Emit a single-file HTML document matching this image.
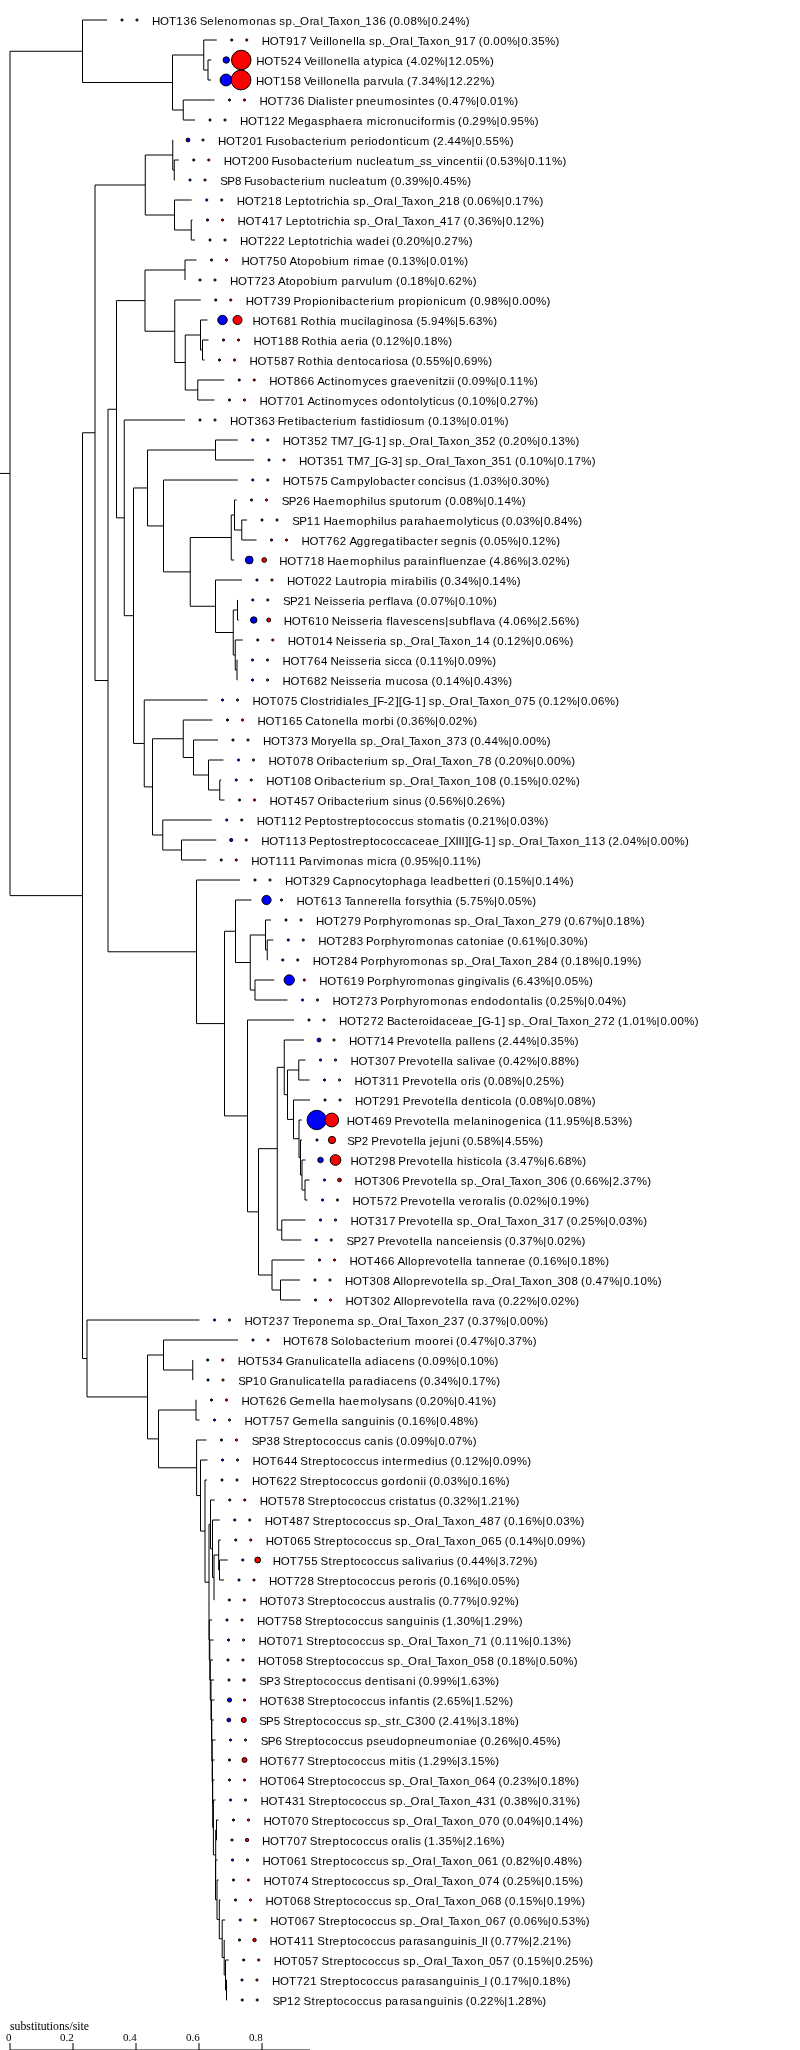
<!DOCTYPE html>
<html><head><meta charset="utf-8"><style>html,body{margin:0;padding:0;background:#fff;}svg{display:block;will-change:transform;}</style></head>
<body>
<svg width="800" height="2050" viewBox="0 0 800 2050">
<path d="M82.5 20H107M203.75 40H216.75M208 60H211.25M208 80H211M203.75 70H208M172.5 55H203.75M183.25 100H214.5M183.25 120H195M172.5 110H183.25M82.5 82.5H172.5M10 51.25H82.5M172.75 140H173M174.25 160H178.75M174.25 180H175M172.75 170H174.25M145.25 155H172.75M174.5 200H191.75M191.25 220H192.5M191.25 240H195M174.5 230H191.25M145.25 215H174.5M95 185H145.25M185 260H196.5M145 270H185M174.75 300H200.75M200.5 320H207.5M202.5 340H208.5M202.5 360H204.5M200.5 350H202.5M185.25 335H200.5M197.75 380H224.25M197.75 400H214.5M185.25 390H197.75M174.75 362.5H185.25M145 331.25H174.75M116.5 300.62H145M124.25 420H185M215.5 440H237.75M215.5 460H254M147.5 450H215.5M163.5 480H237.75M234.5 500H236.5M241.75 520H247M241.75 540H256.5M234.5 530H241.75M231.25 515H234.5M231.25 560H234.25M190.25 537.5H231.25M215.5 580H242M237.5 600H237.75M237.5 620H238.75M233.25 610H237.5M235.25 640H242.75M237 660H237.5M237 680H237.5M235.25 670H237M233.25 655H235.25M215.5 632.5H233.25M190.25 606.25H215.5M163.5 571.88H190.25M147.5 525.94H163.5M133.5 487.97H147.5M144.25 700H207.5M183.25 720H212.5M193.5 740H218M208.5 760H223.5M219.75 780H221.25M219.75 800H224.5M208.5 790H219.75M193.5 775H208.5M183.25 757.5H193.5M152.5 738.75H183.25M162.75 820H211.75M181.5 840H216.25M181.5 860H206.25M162.75 850H181.5M152.5 835H162.75M144.25 786.88H152.5M133.5 743.44H144.25M124.25 615.7H133.5M116.5 517.85H124.25M108 409.24H116.5M196.5 880H240M235.5 900H251.5M265.5 920H271M267.25 940H273.25M267.25 960H267.75M265.5 950H267.25M250.25 935H265.5M255 980H274.25M255 1000H287.5M250.25 990H255M235.5 962.5H250.25M224.5 931.25H235.5M247.5 1020H294M284.25 1040H304M298.75 1060H305.5M298.75 1080H309.5M287.5 1070H298.75M293.5 1100H310M299 1120H301.75M300.5 1140H302M302 1160H305.5M305 1180H309.5M305 1200H307.5M302 1190H305M300.5 1175H302M299 1157.5H300.5M293.5 1138.75H299M287.5 1119.38H293.5M284.25 1094.69H287.5M277.25 1067.34H284.25M281.75 1220H305.5M281.75 1240H301.25M277.25 1230H281.75M258.5 1148.67H277.25M272 1260H304.5M280.5 1280H300M280.5 1300H300.5M272 1290H280.5M258.5 1275H272M247.5 1211.84H258.5M224.5 1115.92H247.5M196.5 1023.58H224.5M108 951.79H196.5M95 680.52H108M82.5 432.76H95M87 1320H199.5M163.5 1340H238M192.75 1380H193M163.5 1370H192.75M147.5 1355H163.5M196 1400H196.5M196 1420H199.5M158.5 1410H196M196.6 1440H206.5M200.5 1460H207.5M205 1480H207M210.5 1500H214.75M212.5 1520H219.75M218.7 1540H220.75M219.5 1560H227.75M219.5 1580H224M218.7 1570H219.5M214 1555H218.7M214 1600H214.3M212.5 1577.5H214M210.5 1548.75H212.5M209 1524.38H210.5M209.3 1620H212M209.8 1640H213.5M210.3 1660H213M211 1680H214M211.5 1700H214.5M211.8 1720H213.8M212.2 1740H215.5M212.5 1760H214.5M212.7 1780H214.5M213.4 1800H215.5M216.5 1820H218.5M216.5 1840H217M215.7 1830H216.5M215.5 1860H217.5M217 1880H218.5M219.3 1900H220.5M222.2 1920H225.2M224.2 1940H224.5M225.5 1960H228.7M226.5 1980H227M226.5 2000H227.2M225.5 1990H226.5M224.2 1975H225.5M222.2 1957.5H224.2M219.3 1938.75H222.2M217 1919.38H219.3M215.5 1899.69H217M213.4 1854.92H215.7M212.7 1827.46H213.4M212.5 1803.73H212.7M212.2 1781.87H212.5M211.8 1760.93H212.2M211.5 1740.47H211.8M211 1720.23H211.5M210.3 1700.12H211M209.8 1680.06H210.3M209.3 1660.03H209.8M209 1640.01H209.3M205 1582.19H209M200.5 1531.1H205M196.6 1495.55H200.5M158.5 1467.77H196.6M147.5 1438.89H158.5M87 1396.94H147.5M82.5 1358.47H87M10 895.61H82.5M0 473.43H10M208 60V80M203.75 40V70M183.25 100V120M172.5 55V110M82.5 20V82.5M174.25 160V180M172.75 140V170M191.25 220V240M174.5 200V230M145.25 155V215M185 260V280M202.5 340V360M200.5 320V350M197.75 380V400M185.25 335V390M174.75 300V362.5M145 270V331.25M215.5 440V460M241.75 520V540M234.5 500V530M231.25 515V560M237.5 600V620M237 660V680M235.25 640V670M233.25 610V655M215.5 580V632.5M190.25 537.5V606.25M163.5 480V571.88M147.5 450V525.94M219.75 780V800M208.5 760V790M193.5 740V775M183.25 720V757.5M181.5 840V860M162.75 820V850M152.5 738.75V835M144.25 700V786.88M133.5 487.97V743.44M124.25 420V615.7M116.5 300.62V517.85M267.25 940V960M265.5 920V950M255 980V1000M250.25 935V990M235.5 900V962.5M298.75 1060V1080M305 1180V1200M302 1160V1190M300.5 1140V1175M299 1120V1157.5M293.5 1100V1138.75M287.5 1070V1119.38M284.25 1040V1094.69M281.75 1220V1240M277.25 1067.34V1230M280.5 1280V1300M272 1260V1290M258.5 1148.67V1275M247.5 1020V1211.84M224.5 931.25V1115.92M196.5 880V1023.58M108 409.24V951.79M95 185V680.52M192.75 1360V1380M163.5 1340V1370M196 1400V1420M219.5 1560V1580M218.7 1540V1570M214 1555V1600M212.5 1520V1577.5M210.5 1500V1548.75M216.5 1820V1840M226.5 1980V2000M225.5 1960V1990M224.2 1940V1975M222.2 1920V1957.5M219.3 1900V1938.75M217 1880V1919.38M215.5 1860V1899.69M215.7 1830V1879.84M213.4 1800V1854.92M212.7 1780V1827.46M212.5 1760V1803.73M212.2 1740V1781.87M211.8 1720V1760.93M211.5 1700V1740.47M211 1680V1720.23M210.3 1660V1700.12M209.8 1640V1680.06M209.3 1620V1660.03M209 1524.38V1640.01M205 1480V1582.19M200.5 1460V1531.1M196.6 1440V1495.55M158.5 1410V1467.77M147.5 1355V1438.89M87 1320V1396.94M82.5 432.76V1358.47M10 51.25V895.61" stroke="#000" stroke-width="1" fill="none"/>
<g stroke="#000" stroke-width="1">
<circle cx="122" cy="20" r="1.1" fill="#0000ff"/><circle cx="137" cy="20" r="1.1" fill="#ff0000"/><circle cx="231.75" cy="40" r="1.1" fill="#0000ff"/><circle cx="246.75" cy="40" r="1.1" fill="#ff0000"/><circle cx="226.25" cy="60" r="3.19" fill="#0000ff"/><circle cx="241.25" cy="60" r="9.76" fill="#ff0000"/><circle cx="226" cy="80" r="5.91" fill="#0000ff"/><circle cx="241" cy="80" r="9.9" fill="#ff0000"/><circle cx="229.5" cy="100" r="1.1" fill="#0000ff"/><circle cx="244.5" cy="100" r="1.1" fill="#ff0000"/><circle cx="210" cy="120" r="1.1" fill="#0000ff"/><circle cx="225" cy="120" r="1.1" fill="#ff0000"/><circle cx="188" cy="140" r="1.9" fill="#0000ff"/><circle cx="203" cy="140" r="1.1" fill="#ff0000"/><circle cx="193.75" cy="160" r="1.1" fill="#0000ff"/><circle cx="208.75" cy="160" r="1.1" fill="#ff0000"/><circle cx="190" cy="180" r="1.1" fill="#0000ff"/><circle cx="205" cy="180" r="1.1" fill="#ff0000"/><circle cx="206.75" cy="200" r="1.1" fill="#0000ff"/><circle cx="221.75" cy="200" r="1.1" fill="#ff0000"/><circle cx="207.5" cy="220" r="1.1" fill="#0000ff"/><circle cx="222.5" cy="220" r="1.1" fill="#ff0000"/><circle cx="210" cy="240" r="1.1" fill="#0000ff"/><circle cx="225" cy="240" r="1.1" fill="#ff0000"/><circle cx="211.5" cy="260" r="1.1" fill="#0000ff"/><circle cx="226.5" cy="260" r="1.1" fill="#ff0000"/><circle cx="200" cy="280" r="1.1" fill="#0000ff"/><circle cx="215" cy="280" r="1.1" fill="#ff0000"/><circle cx="215.75" cy="300" r="1.1" fill="#0000ff"/><circle cx="230.75" cy="300" r="1.1" fill="#ff0000"/><circle cx="222.5" cy="320" r="4.76" fill="#0000ff"/><circle cx="237.5" cy="320" r="4.51" fill="#ff0000"/><circle cx="223.5" cy="340" r="1.1" fill="#0000ff"/><circle cx="238.5" cy="340" r="1.1" fill="#ff0000"/><circle cx="219.5" cy="360" r="1.1" fill="#0000ff"/><circle cx="234.5" cy="360" r="1.1" fill="#ff0000"/><circle cx="239.25" cy="380" r="1.1" fill="#0000ff"/><circle cx="254.25" cy="380" r="1.1" fill="#ff0000"/><circle cx="229.5" cy="400" r="1.1" fill="#0000ff"/><circle cx="244.5" cy="400" r="1.1" fill="#ff0000"/><circle cx="200" cy="420" r="1.1" fill="#0000ff"/><circle cx="215" cy="420" r="1.1" fill="#ff0000"/><circle cx="252.75" cy="440" r="1.1" fill="#0000ff"/><circle cx="267.75" cy="440" r="1.1" fill="#ff0000"/><circle cx="269" cy="460" r="1.1" fill="#0000ff"/><circle cx="284" cy="460" r="1.1" fill="#ff0000"/><circle cx="252.75" cy="480" r="1.1" fill="#0000ff"/><circle cx="267.75" cy="480" r="1.1" fill="#ff0000"/><circle cx="251.5" cy="500" r="1.1" fill="#0000ff"/><circle cx="266.5" cy="500" r="1.1" fill="#ff0000"/><circle cx="262" cy="520" r="1.1" fill="#0000ff"/><circle cx="277" cy="520" r="1.1" fill="#ff0000"/><circle cx="271.5" cy="540" r="1.1" fill="#0000ff"/><circle cx="286.5" cy="540" r="1.1" fill="#ff0000"/><circle cx="249.25" cy="560" r="3.88" fill="#0000ff"/><circle cx="264.25" cy="560" r="2.37" fill="#ff0000"/><circle cx="257" cy="580" r="1.1" fill="#0000ff"/><circle cx="272" cy="580" r="1.1" fill="#ff0000"/><circle cx="252.75" cy="600" r="1.1" fill="#0000ff"/><circle cx="267.75" cy="600" r="1.1" fill="#ff0000"/><circle cx="253.75" cy="620" r="3.22" fill="#0000ff"/><circle cx="268.75" cy="620" r="1.99" fill="#ff0000"/><circle cx="257.75" cy="640" r="1.1" fill="#0000ff"/><circle cx="272.75" cy="640" r="1.1" fill="#ff0000"/><circle cx="252.5" cy="660" r="1.1" fill="#0000ff"/><circle cx="267.5" cy="660" r="1.1" fill="#ff0000"/><circle cx="252.5" cy="680" r="1.1" fill="#0000ff"/><circle cx="267.5" cy="680" r="1.1" fill="#ff0000"/><circle cx="222.5" cy="700" r="1.1" fill="#0000ff"/><circle cx="237.5" cy="700" r="1.1" fill="#ff0000"/><circle cx="227.5" cy="720" r="1.1" fill="#0000ff"/><circle cx="242.5" cy="720" r="1.1" fill="#ff0000"/><circle cx="233" cy="740" r="1.1" fill="#0000ff"/><circle cx="248" cy="740" r="1.1" fill="#ff0000"/><circle cx="238.5" cy="760" r="1.1" fill="#0000ff"/><circle cx="253.5" cy="760" r="1.1" fill="#ff0000"/><circle cx="236.25" cy="780" r="1.1" fill="#0000ff"/><circle cx="251.25" cy="780" r="1.1" fill="#ff0000"/><circle cx="239.5" cy="800" r="1.1" fill="#0000ff"/><circle cx="254.5" cy="800" r="1.1" fill="#ff0000"/><circle cx="226.75" cy="820" r="1.1" fill="#0000ff"/><circle cx="241.75" cy="820" r="1.1" fill="#ff0000"/><circle cx="231.25" cy="840" r="1.57" fill="#0000ff"/><circle cx="246.25" cy="840" r="1.1" fill="#ff0000"/><circle cx="221.25" cy="860" r="1.1" fill="#0000ff"/><circle cx="236.25" cy="860" r="1.1" fill="#ff0000"/><circle cx="255" cy="880" r="1.1" fill="#0000ff"/><circle cx="270" cy="880" r="1.1" fill="#ff0000"/><circle cx="266.5" cy="900" r="4.61" fill="#0000ff"/><circle cx="281.5" cy="900" r="1.1" fill="#ff0000"/><circle cx="286" cy="920" r="1.1" fill="#0000ff"/><circle cx="301" cy="920" r="1.1" fill="#ff0000"/><circle cx="288.25" cy="940" r="1.1" fill="#0000ff"/><circle cx="303.25" cy="940" r="1.1" fill="#ff0000"/><circle cx="282.75" cy="960" r="1.1" fill="#0000ff"/><circle cx="297.75" cy="960" r="1.1" fill="#ff0000"/><circle cx="289.25" cy="980" r="5.16" fill="#0000ff"/><circle cx="304.25" cy="980" r="1.1" fill="#ff0000"/><circle cx="302.5" cy="1000" r="1.1" fill="#0000ff"/><circle cx="317.5" cy="1000" r="1.1" fill="#ff0000"/><circle cx="309" cy="1020" r="1.1" fill="#0000ff"/><circle cx="324" cy="1020" r="1.1" fill="#ff0000"/><circle cx="319" cy="1040" r="1.9" fill="#0000ff"/><circle cx="334" cy="1040" r="1.1" fill="#ff0000"/><circle cx="320.5" cy="1060" r="1.1" fill="#0000ff"/><circle cx="335.5" cy="1060" r="1.1" fill="#ff0000"/><circle cx="324.5" cy="1080" r="1.1" fill="#0000ff"/><circle cx="339.5" cy="1080" r="1.1" fill="#ff0000"/><circle cx="325" cy="1100" r="1.1" fill="#0000ff"/><circle cx="340" cy="1100" r="1.1" fill="#ff0000"/><circle cx="316.75" cy="1120" r="9.68" fill="#0000ff"/><circle cx="331.75" cy="1120" r="6.88" fill="#ff0000"/><circle cx="317" cy="1140" r="1.1" fill="#0000ff"/><circle cx="332" cy="1140" r="3.62" fill="#ff0000"/><circle cx="320.5" cy="1160" r="2.74" fill="#0000ff"/><circle cx="335.5" cy="1160" r="5.37" fill="#ff0000"/><circle cx="324.5" cy="1180" r="1.1" fill="#0000ff"/><circle cx="339.5" cy="1180" r="1.84" fill="#ff0000"/><circle cx="322.5" cy="1200" r="1.1" fill="#0000ff"/><circle cx="337.5" cy="1200" r="1.1" fill="#ff0000"/><circle cx="320.5" cy="1220" r="1.1" fill="#0000ff"/><circle cx="335.5" cy="1220" r="1.1" fill="#ff0000"/><circle cx="316.25" cy="1240" r="1.1" fill="#0000ff"/><circle cx="331.25" cy="1240" r="1.1" fill="#ff0000"/><circle cx="319.5" cy="1260" r="1.1" fill="#0000ff"/><circle cx="334.5" cy="1260" r="1.1" fill="#ff0000"/><circle cx="315" cy="1280" r="1.1" fill="#0000ff"/><circle cx="330" cy="1280" r="1.1" fill="#ff0000"/><circle cx="315.5" cy="1300" r="1.1" fill="#0000ff"/><circle cx="330.5" cy="1300" r="1.1" fill="#ff0000"/><circle cx="214.5" cy="1320" r="1.1" fill="#0000ff"/><circle cx="229.5" cy="1320" r="1.1" fill="#ff0000"/><circle cx="253" cy="1340" r="1.1" fill="#0000ff"/><circle cx="268" cy="1340" r="1.1" fill="#ff0000"/><circle cx="207.75" cy="1360" r="1.1" fill="#0000ff"/><circle cx="222.75" cy="1360" r="1.1" fill="#ff0000"/><circle cx="208" cy="1380" r="1.1" fill="#0000ff"/><circle cx="223" cy="1380" r="1.1" fill="#ff0000"/><circle cx="211.5" cy="1400" r="1.1" fill="#0000ff"/><circle cx="226.5" cy="1400" r="1.1" fill="#ff0000"/><circle cx="214.5" cy="1420" r="1.1" fill="#0000ff"/><circle cx="229.5" cy="1420" r="1.1" fill="#ff0000"/><circle cx="221.5" cy="1440" r="1.1" fill="#0000ff"/><circle cx="236.5" cy="1440" r="1.1" fill="#ff0000"/><circle cx="222.5" cy="1460" r="1.1" fill="#0000ff"/><circle cx="237.5" cy="1460" r="1.1" fill="#ff0000"/><circle cx="222" cy="1480" r="1.1" fill="#0000ff"/><circle cx="237" cy="1480" r="1.1" fill="#ff0000"/><circle cx="229.75" cy="1500" r="1.1" fill="#0000ff"/><circle cx="244.75" cy="1500" r="1.1" fill="#ff0000"/><circle cx="234.75" cy="1520" r="1.1" fill="#0000ff"/><circle cx="249.75" cy="1520" r="1.1" fill="#ff0000"/><circle cx="235.75" cy="1540" r="1.1" fill="#0000ff"/><circle cx="250.75" cy="1540" r="1.1" fill="#ff0000"/><circle cx="242.75" cy="1560" r="1.1" fill="#0000ff"/><circle cx="257.75" cy="1560" r="2.94" fill="#ff0000"/><circle cx="239" cy="1580" r="1.1" fill="#0000ff"/><circle cx="254" cy="1580" r="1.1" fill="#ff0000"/><circle cx="229.3" cy="1600" r="1.1" fill="#0000ff"/><circle cx="244.3" cy="1600" r="1.1" fill="#ff0000"/><circle cx="227" cy="1620" r="1.1" fill="#0000ff"/><circle cx="242" cy="1620" r="1.1" fill="#ff0000"/><circle cx="228.5" cy="1640" r="1.1" fill="#0000ff"/><circle cx="243.5" cy="1640" r="1.1" fill="#ff0000"/><circle cx="228" cy="1660" r="1.1" fill="#0000ff"/><circle cx="243" cy="1660" r="1.1" fill="#ff0000"/><circle cx="229" cy="1680" r="1.1" fill="#0000ff"/><circle cx="244" cy="1680" r="1.23" fill="#ff0000"/><circle cx="229.5" cy="1700" r="2.07" fill="#0000ff"/><circle cx="244.5" cy="1700" r="1.14" fill="#ff0000"/><circle cx="228.8" cy="1720" r="1.87" fill="#0000ff"/><circle cx="243.8" cy="1720" r="2.5" fill="#ff0000"/><circle cx="230.5" cy="1740" r="1.1" fill="#0000ff"/><circle cx="245.5" cy="1740" r="1.1" fill="#ff0000"/><circle cx="229.5" cy="1760" r="1.1" fill="#0000ff"/><circle cx="244.5" cy="1760" r="2.48" fill="#ff0000"/><circle cx="229.5" cy="1780" r="1.1" fill="#0000ff"/><circle cx="244.5" cy="1780" r="1.1" fill="#ff0000"/><circle cx="230.5" cy="1800" r="1.1" fill="#0000ff"/><circle cx="245.5" cy="1800" r="1.1" fill="#ff0000"/><circle cx="233.5" cy="1820" r="1.1" fill="#0000ff"/><circle cx="248.5" cy="1820" r="1.1" fill="#ff0000"/><circle cx="232" cy="1840" r="1.1" fill="#0000ff"/><circle cx="247" cy="1840" r="1.67" fill="#ff0000"/><circle cx="232.5" cy="1860" r="1.1" fill="#0000ff"/><circle cx="247.5" cy="1860" r="1.1" fill="#ff0000"/><circle cx="233.5" cy="1880" r="1.1" fill="#0000ff"/><circle cx="248.5" cy="1880" r="1.1" fill="#ff0000"/><circle cx="235.5" cy="1900" r="1.1" fill="#0000ff"/><circle cx="250.5" cy="1900" r="1.1" fill="#ff0000"/><circle cx="240.2" cy="1920" r="1.1" fill="#0000ff"/><circle cx="255.2" cy="1920" r="1.1" fill="#ff0000"/><circle cx="239.5" cy="1940" r="1.1" fill="#0000ff"/><circle cx="254.5" cy="1940" r="1.71" fill="#ff0000"/><circle cx="243.7" cy="1960" r="1.1" fill="#0000ff"/><circle cx="258.7" cy="1960" r="1.1" fill="#ff0000"/><circle cx="242" cy="1980" r="1.1" fill="#0000ff"/><circle cx="257" cy="1980" r="1.1" fill="#ff0000"/><circle cx="242.2" cy="2000" r="1.1" fill="#0000ff"/><circle cx="257.2" cy="2000" r="1.1" fill="#ff0000"/>
</g>
<g font-family="Liberation Sans, sans-serif" font-size="11.5" fill="#000">
<text x="152.1 159.98 168.98 176.37 183.45 190.43 197.18 199.85 207.34 214.41 217.34 224.44 231.3 238.7 249.3 256.44 262.9 270.21 276.18 279.21 285.49 292.3 294.72 299.98 309.7 312.9 320.41 322.72 327.98 332.9 340.49 346.3 353.44 359.72 365.37 372.45 379.43 386.18 389.09 393.43 400.3 403.43 410.43 417.22 427.51 431.43 438.3 441.29 448.43 455.22 465.67" y="25">HOT136 Selenomonas sp._Oral_Taxon_136 (0.08%|0.24%)</text>
<text x="261.85 269.73 278.73 286.15 293.12 300.16 306.93 309.8 316.09 323.17 326.16 329.16 332.05 339.19 346.09 353.16 356.16 358.65 365.93 368.96 375.24 382.05 384.47 389.73 399.45 402.65 410.16 412.47 417.73 422.65 430.24 436.05 443.19 449.47 455.15 462.12 469.16 475.93 478.84 483.18 490.05 493.18 500.18 506.97 517.26 521.18 528.05 531.2 538.14 544.97 555.42" y="45">HOT917 Veillonella sp._Oral_Taxon_917 (0.00%|0.35%)</text>
<text x="256.35 264.23 273.23 280.64 287.54 294.68 301.43 304.3 310.59 317.67 320.66 323.66 326.55 333.69 340.59 347.66 350.66 353.15 360.43 363.15 370.93 374.76 380.74 387.67 390.41 396.15 403.43 406.34 410.68 417.55 420.68 427.54 434.47 444.76 448.62 455.54 462.55 465.68 472.64 479.47 489.92" y="65">HOT524 Veillonella atypica (4.02%|12.05%)</text>
<text x="256.1 263.98 272.98 280.37 287.39 294.43 301.18 304.05 310.34 317.42 320.41 323.41 326.3 333.44 340.34 347.41 350.41 352.9 360.18 363.49 369.9 377.7 381.52 387.4 394.41 396.9 404.18 407.09 411.41 418.3 421.45 428.43 435.22 445.51 449.37 456.29 463.3 466.29 473.29 480.22 490.67" y="85">HOT158 Veillonella parvula (7.34%|12.22%)</text>
<text x="259.6 267.48 276.48 283.91 290.95 297.93 304.68 307.72 315.92 318.4 325.91 328.92 331.71 338.18 341.84 349.2 352.68 355.99 362.94 369.84 376.9 384.2 394.8 401.71 407.92 410.94 418.18 421.84 428.71 434.68 437.59 441.93 448.8 451.93 458.91 465.72 476.01 479.93 486.8 489.93 496.87 503.72 514.17" y="105">HOT736 Dialister pneumosintes (0.47%|0.01%)</text>
<text x="240.1 247.98 256.98 264.37 271.29 278.29 285.18 288.07 297.34 304.36 310.9 318.21 324.49 331.43 337.9 345.34 352.7 355.9 363.18 366.7 377.42 380.16 386.7 390.3 397.44 404.4 411.16 417.42 420.63 424.3 431.7 435.7 446.42 449.21 455.18 458.09 462.43 469.3 472.29 479.4 486.22 496.51 500.43 507.3 510.4 517.39 524.22 534.67" y="125">HOT122 Megasphaera micronuciformis (0.29%|0.95%)</text>
<text x="218.1 225.98 234.98 242.29 249.43 256.37 263.18 265.76 271.4 278.21 284.3 291.49 297.9 305.16 311.68 315.34 322.7 326.42 329.4 336.7 347.18 350.49 357.34 364.7 368.42 371.3 378.36 385.3 392.44 399.68 403.42 406.16 412.4 419.7 430.18 433.09 437.29 444.3 447.43 454.43 461.22 471.51 475.43 482.3 485.39 492.39 499.22 509.67" y="145">HOT201 Fusobacterium periodonticum (2.44%|0.55%)</text>
<text x="223.85 231.73 240.73 248.04 255.18 262.18 268.93 271.51 277.15 283.96 290.05 297.24 303.65 310.91 317.43 321.09 328.45 332.17 335.15 342.45 352.93 356.19 363.15 369.91 376.16 379.09 385.65 393.43 397.15 404.45 414.47 419.96 425.96 431.47 437.27 443.17 446.19 452.91 459.09 466.19 473.43 477.17 480.17 482.93 485.84 490.18 497.05 500.14 507.2 513.97 524.26 528.18 535.05 538.12 545.12 551.97 562.42" y="165">HOT200 Fusobacterium nucleatum_ss_vincentii (0.53%|0.11%)</text>
<text x="220.35 227.29 234.93 241.68 244.26 249.9 256.71 262.8 269.99 276.4 283.66 290.18 293.84 301.2 304.92 307.9 315.2 325.68 328.94 335.9 342.66 348.91 351.84 358.4 366.18 369.9 377.2 387.68 390.59 394.93 401.8 404.95 411.9 418.72 429.01 432.93 439.8 442.93 449.89 456.72 467.17" y="185">SP8 Fusobacterium nucleatum (0.39%|0.45%)</text>
<text x="236.85 244.73 253.73 261.04 268.12 275.18 281.93 284.98 291.09 298.24 305.43 309.05 316.43 320.45 324.17 326.91 333.18 340.17 342.65 349.93 352.96 359.24 366.05 368.47 373.73 383.45 386.65 394.16 396.47 401.73 406.65 414.24 420.05 427.19 433.47 439.04 446.12 453.18 459.93 462.84 467.18 474.05 477.18 484.18 490.97 501.26 505.18 512.05 515.12 522.16 528.97 539.42" y="205">HOT218 Leptotrichia sp._Oral_Taxon_218 (0.06%|0.17%)</text>
<text x="237.6 245.48 254.48 261.93 268.87 275.91 282.68 285.73 291.84 298.99 306.18 309.8 317.18 321.2 324.92 327.66 333.93 340.92 343.4 350.68 353.71 359.99 366.8 369.22 374.48 384.2 387.4 394.91 397.22 402.48 407.4 414.99 420.8 427.94 434.22 439.93 446.87 453.91 460.68 463.59 467.93 474.8 477.95 484.93 491.72 502.01 505.93 512.8 515.87 522.79 529.72 540.17" y="225">HOT417 Leptotrichia sp._Oral_Taxon_417 (0.36%|0.12%)</text>
<text x="240.1 247.98 256.98 264.29 271.29 278.29 285.18 288.23 294.34 301.49 308.68 312.3 319.68 323.7 327.42 330.16 336.43 343.42 345.9 353.18 356.46 364.9 372.36 379.34 386.42 389.18 392.09 396.43 403.3 406.29 413.43 420.22 430.51 434.43 441.3 444.29 451.41 458.22 468.67" y="245">HOT222 Leptotrichia wadei (0.20%|0.27%)</text>
<text x="241.6 249.48 258.48 265.91 272.89 279.93 286.68 289.55 297.18 300.8 307.99 314.8 321.99 328.92 331.9 339.2 349.68 353.2 356.92 360.2 370.4 377.84 384.68 387.59 391.93 398.8 401.87 408.95 415.72 426.01 429.93 436.8 439.93 446.87 453.72 464.17" y="265">HOT750 Atopobium rimae (0.13%|0.01%)</text>
<text x="230.1 237.98 246.98 254.41 261.29 268.45 275.18 278.05 285.68 289.3 296.49 303.3 310.49 317.42 320.4 327.7 338.18 341.49 347.9 355.7 359.52 365.4 372.41 375.4 382.7 393.18 396.09 400.43 407.3 410.37 417.43 424.22 434.51 438.43 445.3 448.43 455.29 462.22 472.67" y="285">HOT723 Atopobium parvulum (0.18%|0.62%)</text>
<text x="245.85 253.73 262.73 270.16 277.2 284.15 290.93 293.54 301.45 305.05 312.24 319.17 322.05 329.19 336.17 339.24 345.65 352.91 359.43 363.09 370.45 374.17 377.15 384.45 394.93 398.24 405.45 409.05 416.24 423.17 426.05 433.19 440.17 442.91 449.15 456.45 466.93 469.84 474.18 481.05 484.15 491.18 497.97 508.26 512.18 519.05 522.18 529.18 535.97 546.42" y="305">HOT739 Propionibacterium propionicum (0.98%|0.00%)</text>
<text x="252.6 260.48 269.48 276.93 283.93 290.87 297.68 300.47 308.8 316.18 319.93 326.92 329.4 336.68 340.2 350.9 357.66 363.92 366.91 369.4 376.86 383.92 386.94 393.8 400.71 406.4 413.68 416.59 420.89 427.8 430.9 437.93 444.72 455.01 458.89 465.8 468.93 475.95 482.72 493.17" y="325">HOT681 Rothia mucilaginosa (5.94%|5.63%)</text>
<text x="253.6 261.48 270.48 277.87 284.93 291.93 298.68 301.47 309.8 317.18 320.93 327.92 330.4 337.68 340.4 347.84 355.2 358.92 361.4 368.68 371.59 375.93 382.8 385.87 392.79 399.72 410.01 413.93 420.8 423.87 430.93 437.72 448.17" y="345">HOT188 Rothia aeria (0.12%|0.18%)</text>
<text x="249.6 257.48 266.48 273.89 280.93 287.91 294.68 297.47 305.8 313.18 316.93 323.92 326.4 333.68 336.86 343.84 350.94 358.18 361.8 368.66 374.4 382.2 385.92 388.8 395.71 401.4 408.68 411.59 415.93 422.8 425.89 432.89 439.72 450.01 453.93 460.8 463.93 470.9 477.72 488.17" y="365">HOT587 Rothia dentocariosa (0.55%|0.69%)</text>
<text x="269.35 277.23 286.23 293.68 300.68 307.68 314.43 317.3 324.41 330.93 334.67 337.69 344.55 351.95 362.76 368.41 374.59 381.46 387.43 390.61 397.95 401.15 408.59 415.77 421.59 428.69 435.67 438.93 442.46 448.67 451.67 454.43 457.34 461.68 468.55 471.68 478.65 485.47 495.76 499.68 506.55 509.62 516.62 523.47 533.92" y="385">HOT866 Actinomyces graevenitzii (0.09%|0.11%)</text>
<text x="259.6 267.48 276.48 283.91 290.93 297.87 304.68 307.55 314.66 321.18 324.92 327.94 334.8 342.2 353.01 358.66 364.84 371.71 377.68 380.8 387.86 394.8 401.94 409.18 412.8 419.91 423.01 429.18 432.92 435.66 441.9 448.71 454.68 457.59 461.93 468.8 471.87 478.93 485.72 496.01 499.93 506.8 509.79 516.91 523.72 534.17" y="405">HOT701 Actinomyces odontolyticus (0.10%|0.27%)</text>
<text x="230.1 237.98 246.98 254.45 261.43 268.45 275.18 277.76 283.7 287.34 294.68 298.42 301.49 307.9 315.16 321.68 325.34 332.7 336.42 339.4 346.7 357.18 360.63 363.9 371.21 377.68 381.42 384.36 391.42 394.3 401.21 407.4 414.7 425.18 428.09 432.43 439.3 442.37 449.45 456.22 466.51 470.43 477.3 480.43 487.37 494.22 504.67" y="425">HOT363 Fretibacterium fastidiosum (0.13%|0.01%)</text>
<text x="282.85 290.73 299.73 307.2 314.14 321.04 327.93 330.73 337.82 347.16 353.47 359.02 362.66 370.97 375.12 382.87 385.93 388.96 395.24 402.05 404.47 409.73 419.45 422.65 430.16 432.47 437.73 442.65 450.24 456.05 463.19 469.47 475.2 482.14 489.04 495.93 498.84 503.18 510.05 513.04 520.18 526.97 537.26 541.18 548.05 551.12 558.2 564.97 575.42" y="445">HOT352 TM7_[G-1] sp._Oral_Taxon_352 (0.20%|0.13%)</text>
<text x="299.1 306.98 315.98 323.45 330.39 337.37 344.18 346.98 354.07 363.41 369.72 375.27 378.91 387.22 391.45 399.12 402.18 405.21 411.49 418.3 420.72 425.98 435.7 438.9 446.41 448.72 453.98 458.9 466.49 472.3 479.44 485.72 491.45 498.39 505.37 512.18 515.09 519.43 526.3 529.37 536.43 543.22 553.51 557.43 564.3 567.37 574.41 581.22 591.67" y="465">HOT351 TM7_[G-3] sp._Oral_Taxon_351 (0.10%|0.17%)</text>
<text x="282.85 290.73 299.73 307.14 314.16 321.14 327.93 330.5 338.65 346.45 357.24 364.26 370.16 373.05 380.24 386.65 393.91 400.43 404.09 411.45 414.93 417.91 424.05 431.19 437.91 444.17 446.96 453.15 459.96 465.93 468.84 473.12 480.05 483.18 490.2 496.97 507.26 511.18 518.05 521.2 528.18 534.97 545.42" y="485">HOT575 Campylobacter concisus (1.03%|0.30%)</text>
<text x="281.85 288.79 296.29 303.43 310.18 313.1 320.9 328.34 335.7 346.3 353.49 360.43 367.42 370.41 373.4 380.21 386.18 389.21 395.49 402.4 409.68 413.3 420.7 424.4 431.7 442.18 445.09 449.43 456.3 459.43 466.43 473.22 483.51 487.43 494.3 497.37 504.43 511.22 521.67" y="505">SP26 Haemophilus sputorum (0.08%|0.14%)</text>
<text x="292.35 299.29 306.87 313.87 320.68 323.6 331.4 338.84 346.2 356.8 363.99 370.93 377.92 380.91 383.9 390.71 396.68 399.99 406.4 414.2 417.4 424.93 431.4 438.84 446.2 456.8 463.91 467.01 473.18 476.92 479.66 485.9 492.71 498.68 501.59 505.93 512.8 515.93 522.95 529.72 540.01 543.93 550.8 553.93 560.93 567.72 578.17" y="525">SP11 Haemophilus parahaemolyticus (0.03%|0.84%)</text>
<text x="301.6 309.48 318.48 325.91 332.93 339.79 346.68 349.55 356.86 363.86 371.2 374.84 381.86 388.4 396.18 399.92 402.99 409.4 416.66 423.18 426.84 434.2 437.68 440.71 446.84 453.86 460.94 467.92 470.71 476.68 479.59 483.93 490.8 493.93 500.89 507.72 518.01 521.93 528.8 531.87 538.79 545.72 556.17" y="545">HOT762 Aggregatibacter segnis (0.05%|0.12%)</text>
<text x="279.35 287.23 296.23 303.66 310.62 317.68 324.43 327.35 335.15 342.59 349.95 360.55 367.74 374.68 381.67 384.66 387.65 394.46 400.43 403.74 410.15 417.95 421.15 428.67 431.69 438.88 442.66 445.65 452.59 459.69 466.46 472.15 479.59 486.43 489.34 493.68 500.55 503.68 510.68 517.47 527.76 531.7 538.55 541.68 548.54 555.47 565.92" y="565">HOT718 Haemophilus parainfluenzae (4.86%|3.02%)</text>
<text x="287.1 294.98 303.98 311.43 318.29 325.29 332.18 335.23 340.9 348.4 355.68 359.7 363.3 370.49 377.42 379.9 387.18 390.7 401.42 404.7 407.9 415.49 422.42 425.41 428.42 431.21 437.18 440.09 444.43 451.3 454.45 461.43 468.22 478.51 482.43 489.3 492.37 499.43 506.22 516.67" y="585">HOT022 Lautropia mirabilis (0.34%|0.14%)</text>
<text x="283.1 290.04 297.54 304.62 311.43 314.33 322.59 329.67 332.46 338.46 344.59 351.95 355.67 358.15 365.43 368.74 375.59 382.95 386.88 390.66 393.15 400.77 406.15 413.43 416.34 420.68 427.55 430.68 437.66 444.47 454.76 458.68 465.55 468.62 475.68 482.47 492.92" y="605">SP21 Neisseria perflava (0.07%|0.10%)</text>
<text x="283.85 291.73 300.73 308.18 315.12 322.18 328.93 331.83 340.09 347.17 349.96 355.96 362.09 369.45 373.17 375.65 382.93 386.38 390.16 392.65 400.27 406.09 412.96 418.91 425.09 432.19 438.96 445.26 448.96 455.15 462.24 469.38 473.16 475.65 483.27 488.65 495.93 498.84 503.18 510.05 513.18 520.18 526.97 537.26 541.04 548.05 551.14 558.18 564.97 575.42" y="625">HOT610 Neisseria flavescens|subflava (4.06%|2.56%)</text>
<text x="287.85 295.73 304.73 312.18 319.12 326.18 332.93 335.83 344.09 351.17 353.96 359.96 366.09 373.45 377.17 379.65 386.93 389.96 396.24 403.05 405.47 410.73 420.45 423.65 431.16 433.47 438.73 443.65 451.24 457.05 464.19 470.47 476.12 483.18 489.93 492.84 497.18 504.05 507.12 514.04 520.97 531.26 535.18 542.05 545.18 552.18 558.97 569.42" y="645">HOT014 Neisseria sp._Oral_Taxon_14 (0.12%|0.06%)</text>
<text x="282.6 290.48 299.48 306.91 313.93 320.93 327.68 330.58 338.84 345.92 348.71 354.71 360.84 368.2 371.92 374.4 381.68 384.71 390.92 393.66 399.66 405.4 412.68 415.59 419.93 426.8 429.87 436.87 443.72 454.01 457.93 464.8 467.93 474.9 481.72 492.17" y="665">HOT764 Neisseria sicca (0.11%|0.09%)</text>
<text x="282.6 290.48 299.48 306.93 313.93 320.79 327.68 330.58 338.84 345.92 348.71 354.71 360.84 368.2 371.92 374.4 381.68 385.2 395.9 402.66 408.8 415.71 421.4 428.68 431.59 435.93 442.8 445.87 452.93 459.72 470.01 473.93 480.8 483.93 490.95 497.72 508.17" y="685">HOT682 Neisseria mucosa (0.14%|0.43%)</text>
<text x="252.6 260.48 269.48 276.93 283.91 290.89 297.68 300.25 308.91 311.8 318.71 325.18 329.2 332.92 335.86 342.92 345.4 352.91 355.84 362.71 368.22 373.77 377.26 383.72 387.79 395.62 398.77 402.41 410.72 414.87 422.62 425.68 428.71 434.99 441.8 444.22 449.48 459.2 462.4 469.91 472.22 477.48 482.4 489.99 495.8 502.94 509.22 514.93 521.91 528.89 535.68 538.59 542.93 549.8 552.87 559.79 566.72 577.01 580.93 587.8 590.93 597.93 604.72 615.17" y="705">HOT075 Clostridiales_[F-2][G-1] sp._Oral_Taxon_075 (0.12%|0.06%)</text>
<text x="257.6 265.48 274.48 281.87 288.93 295.89 302.68 305.25 313.4 321.18 324.8 331.94 338.84 345.91 348.91 351.4 358.68 362.2 372.8 380.2 383.99 390.92 393.68 396.59 400.93 407.8 410.95 417.93 424.72 435.01 438.93 445.8 448.93 455.79 462.72 473.17" y="725">HOT165 Catonella morbi (0.36%|0.02%)</text>
<text x="263.1 270.98 279.98 287.45 294.41 301.45 308.18 311.07 320.3 327.7 331.51 337.34 344.41 347.41 349.9 357.18 360.21 366.49 373.3 375.72 380.98 390.7 393.9 401.41 403.72 408.98 413.9 421.49 427.3 434.44 440.72 446.45 453.41 460.45 467.18 470.09 474.43 481.3 484.43 491.43 498.22 508.51 512.43 519.3 522.43 529.43 536.22 546.67" y="745">HOT373 Moryella sp._Oral_Taxon_373 (0.44%|0.00%)</text>
<text x="268.6 276.48 285.48 292.93 299.91 306.93 313.68 316.48 326.2 329.92 332.99 339.4 346.66 353.18 356.84 364.2 367.92 370.9 378.2 388.68 391.71 397.99 404.8 407.22 412.48 422.2 425.4 432.91 435.22 440.48 445.4 452.99 458.8 465.94 472.22 477.91 484.93 491.68 494.59 498.93 505.8 508.79 515.93 522.72 533.01 536.93 543.8 546.93 553.93 560.72 571.17" y="765">HOT078 Oribacterium sp._Oral_Taxon_78 (0.20%|0.00%)</text>
<text x="266.35 274.23 283.23 290.62 297.68 304.68 311.43 314.23 323.95 327.67 330.74 337.15 344.41 350.93 354.59 361.95 365.67 368.65 375.95 386.43 389.46 395.74 402.55 404.97 410.23 419.95 423.15 430.66 432.97 438.23 443.15 450.74 456.55 463.69 469.97 475.62 482.68 489.68 496.43 499.34 503.68 510.55 513.62 520.64 527.47 537.76 541.68 548.55 551.68 558.54 565.47 575.92" y="785">HOT108 Oribacterium sp._Oral_Taxon_108 (0.15%|0.02%)</text>
<text x="269.6 277.48 286.48 293.93 300.89 307.91 314.68 317.48 327.2 330.92 333.99 340.4 347.66 354.18 357.84 365.2 368.92 371.9 379.2 389.68 392.71 398.92 401.94 408.9 415.71 421.68 424.59 428.93 435.8 438.89 445.93 452.72 463.01 466.93 473.8 476.79 483.93 490.72 501.17" y="805">HOT457 Oribacterium sinus (0.56%|0.26%)</text>
<text x="256.85 264.73 273.73 281.12 288.12 295.04 301.93 304.54 312.09 319.24 326.43 330.05 336.96 343.43 347.45 351.09 358.24 365.43 369.05 375.91 382.05 388.91 394.91 401.15 407.96 413.93 416.96 423.43 427.05 434.45 444.65 452.43 456.17 458.96 464.93 467.84 472.18 479.05 482.04 489.12 495.97 506.26 510.18 517.05 520.18 527.2 533.97 544.42" y="825">HOT112 Peptostreptococcus stomatis (0.21%|0.03%)</text>
<text x="261.35 269.23 278.23 285.62 292.62 299.7 306.43 309.04 316.59 323.74 330.93 334.55 341.46 347.93 351.95 355.59 362.74 369.93 373.55 380.41 386.55 393.41 399.41 405.15 412.41 418.59 425.15 432.59 438.97 444.52 448.29 455.43 458.43 461.43 465.37 468.52 472.16 480.47 484.62 492.37 495.43 498.46 504.74 511.55 513.97 519.23 528.95 532.15 539.66 541.97 547.23 552.15 559.74 565.55 572.69 578.97 584.62 591.62 598.7 605.43 608.34 612.54 619.55 622.68 629.68 636.47 646.76 650.68 657.55 660.68 667.68 674.47 684.92" y="845">HOT113 Peptostreptococcaceae_[XIII][G-1] sp._Oral_Taxon_113 (2.04%|0.00%)</text>
<text x="251.35 259.23 268.23 275.62 282.62 289.62 296.43 299.04 305.15 312.95 316.77 322.67 325.95 336.55 343.69 350.15 357.46 363.43 366.95 377.67 380.41 386.95 390.15 397.43 400.34 404.68 411.55 414.65 421.64 428.47 438.76 442.68 449.55 452.62 459.62 466.47 476.92" y="865">HOT111 Parvimonas micra (0.95%|0.11%)</text>
<text x="285.1 292.98 301.98 309.45 316.29 323.4 330.18 332.75 340.9 348.49 355.44 362.3 369.16 375.51 381.68 385.3 392.49 399.43 405.9 413.36 419.9 427.18 430.41 433.34 439.9 447.36 454.49 461.34 468.68 472.68 476.34 483.7 487.42 490.18 493.09 497.43 504.3 507.37 514.39 521.22 531.51 535.43 542.3 545.37 552.43 559.22 569.67" y="885">HOT329 Capnocytophaga leadbetteri (0.15%|0.14%)</text>
<text x="296.6 304.48 313.48 320.93 327.87 334.95 341.68 344.48 349.4 356.94 363.94 370.84 378.2 381.84 388.91 391.91 394.4 401.68 405.13 408.8 416.2 419.71 426.01 432.18 435.93 442.92 445.4 452.68 455.59 459.89 466.8 469.91 476.89 483.72 494.01 497.93 504.8 507.93 514.89 521.72 532.17" y="905">HOT613 Tannerella forsythia (5.75%|0.05%)</text>
<text x="316.1 323.98 332.98 340.29 347.41 354.4 361.18 363.79 371.3 378.7 382.49 389.43 396.51 402.7 406.3 413.7 424.3 431.44 437.9 445.21 451.18 454.21 460.49 467.3 469.72 474.98 484.7 487.9 495.41 497.72 502.98 507.9 515.49 521.3 528.44 534.72 540.29 547.41 554.4 561.18 564.09 568.43 575.3 578.43 585.41 592.22 602.51 606.43 613.3 616.37 623.43 630.22 640.67" y="925">HOT279 Porphyromonas sp._Oral_Taxon_279 (0.67%|0.18%)</text>
<text x="318.35 326.23 335.23 342.54 349.68 356.7 363.43 366.04 373.55 380.95 384.74 391.68 398.76 404.95 408.55 415.95 426.55 433.69 440.15 447.46 453.43 456.41 462.15 469.93 473.55 480.69 487.67 490.15 497.59 504.43 507.34 511.68 518.55 521.68 528.62 535.47 545.76 549.68 556.55 559.7 566.68 573.47 583.92" y="945">HOT283 Porphyromonas catoniae (0.61%|0.30%)</text>
<text x="312.85 320.73 329.73 337.04 344.18 351.18 357.93 360.54 368.05 375.45 379.24 386.18 393.26 399.45 403.05 410.45 421.05 428.19 434.65 441.96 447.93 450.96 457.24 464.05 466.47 471.73 481.45 484.65 492.16 494.47 499.73 504.65 512.24 518.05 525.19 531.47 537.04 544.18 551.18 557.93 560.84 565.18 572.05 575.12 582.18 588.97 599.26 603.18 610.05 613.12 620.15 626.97 637.42" y="965">HOT284 Porphyromonas sp._Oral_Taxon_284 (0.18%|0.19%)</text>
<text x="319.35 327.23 336.23 343.68 350.62 357.65 364.43 367.04 374.55 381.95 385.74 392.68 399.76 405.95 409.55 416.95 427.55 434.69 441.15 448.46 454.43 457.61 464.67 467.69 474.61 481.67 484.77 490.15 497.66 500.67 503.46 509.43 512.34 516.68 523.55 526.68 533.7 540.47 550.76 554.68 561.55 564.68 571.64 578.47 588.92" y="985">HOT619 Porphyromonas gingivalis (6.43%|0.05%)</text>
<text x="332.6 340.48 349.48 356.79 363.91 370.95 377.68 380.29 387.8 395.2 398.99 405.93 413.01 419.2 422.8 430.2 440.8 447.94 454.4 461.71 467.68 470.84 477.94 484.86 491.8 498.86 505.8 512.94 520.18 523.4 530.91 533.92 536.71 542.68 545.59 549.93 556.8 559.79 566.89 573.72 584.01 587.93 594.8 597.93 604.93 611.72 622.17" y="1005">HOT273 Porphyromonas endodontalis (0.25%|0.04%)</text>
<text x="339.1 346.98 355.98 363.29 370.41 377.29 384.18 387.05 393.9 401.16 407.68 411.34 418.7 422.3 429.42 432.36 438.9 446.16 452.34 458.9 466.34 472.72 478.27 481.91 490.22 494.37 502.12 505.18 508.21 514.49 521.3 523.72 528.98 538.7 541.9 549.41 551.72 556.98 561.9 569.49 575.3 582.44 588.72 594.29 601.41 608.29 615.18 618.09 622.37 629.3 632.43 639.37 646.22 656.51 660.43 667.3 670.43 677.43 684.22 694.67" y="1025">HOT272 Bacteroidaceae_[G-1] sp._Oral_Taxon_272 (1.01%|0.00%)</text>
<text x="349.1 356.98 365.98 373.41 380.37 387.43 394.18 396.79 404.7 408.34 415.52 421.3 428.68 432.34 439.41 442.41 444.9 452.18 455.49 461.9 469.41 472.41 475.34 482.44 489.21 495.18 498.09 502.29 509.3 512.43 519.43 526.22 536.51 540.43 547.3 550.45 557.39 564.22 574.67" y="1045">HOT714 Prevotella pallens (2.44%|0.35%)</text>
<text x="350.6 358.48 367.48 374.95 381.93 388.91 395.68 398.29 406.2 409.84 417.02 422.8 430.18 433.84 440.91 443.91 446.4 453.68 456.71 462.4 469.91 472.92 476.02 481.4 488.84 495.68 498.59 502.93 509.8 512.93 519.79 526.72 537.01 540.93 547.8 550.93 557.93 564.72 575.17" y="1065">HOT307 Prevotella salivae (0.42%|0.88%)</text>
<text x="354.6 362.48 371.48 378.95 385.87 392.87 399.68 402.29 410.2 413.84 421.02 426.8 434.18 437.84 444.91 447.91 450.4 457.68 460.8 468.2 471.92 474.71 480.68 483.59 487.93 494.8 497.93 504.93 511.72 522.01 525.93 532.8 535.79 542.89 549.72 560.17" y="1085">HOT311 Prevotella oris (0.08%|0.25%)</text>
<text x="355.1 362.98 371.98 379.29 386.4 393.37 400.18 402.79 410.7 414.34 421.52 427.3 434.68 438.34 445.41 448.41 450.9 458.18 461.36 468.34 475.44 482.68 486.42 489.16 495.3 502.41 504.9 512.18 515.09 519.43 526.3 529.43 536.43 543.22 553.51 557.43 564.3 567.43 574.43 581.22 591.67" y="1105">HOT291 Prevotella denticola (0.08%|0.08%)</text>
<text x="346.85 354.73 363.73 371.18 378.18 385.15 391.93 394.54 402.45 406.09 413.27 419.05 426.43 430.09 437.16 440.16 442.65 449.93 453.45 464.09 471.16 473.65 481.19 488.17 491.19 498.05 505.11 512.09 519.19 526.17 528.91 534.65 541.93 544.84 549.12 556.12 563.05 566.15 573.14 579.97 590.26 594.18 601.05 604.14 611.2 617.97 628.42" y="1125">HOT469 Prevotella melaninogenica (11.95%|8.53%)</text>
<text x="347.35 354.29 361.79 368.68 371.29 379.2 382.84 390.02 395.8 403.18 406.84 413.91 416.91 419.4 426.68 429.83 432.84 439.83 442.9 449.94 456.92 459.68 462.59 466.93 473.8 476.89 483.93 490.72 501.01 504.93 511.8 514.89 521.89 528.72 539.17" y="1145">SP2 Prevotella jejuni (0.58%|4.55%)</text>
<text x="350.6 358.48 367.48 374.79 381.9 388.93 395.68 398.29 406.2 409.84 417.02 422.8 430.18 433.84 440.91 443.91 446.4 453.68 456.93 463.92 466.71 473.18 476.92 479.66 485.8 492.91 495.4 502.68 505.59 509.95 516.8 519.93 526.91 533.72 544.01 547.93 554.8 557.93 564.93 571.72 582.17" y="1165">HOT298 Prevotella histicola (3.47%|6.68%)</text>
<text x="354.6 362.48 371.48 378.95 385.93 392.93 399.68 402.29 410.2 413.84 421.02 426.8 434.18 437.84 444.91 447.91 450.4 457.68 460.71 466.99 473.8 476.22 481.48 491.2 494.4 501.91 504.22 509.48 514.4 521.99 527.8 534.94 541.22 546.95 553.93 560.93 567.68 570.59 574.93 581.8 584.93 591.93 598.72 609.01 612.79 619.8 622.95 629.91 636.72 647.17" y="1185">HOT306 Prevotella sp._Oral_Taxon_306 (0.66%|2.37%)</text>
<text x="352.6 360.48 369.48 376.89 383.91 390.79 397.68 400.29 408.2 411.84 419.02 424.8 432.18 435.84 442.91 445.91 448.4 455.68 459.02 464.84 472.2 475.8 483.2 486.4 493.91 496.92 499.71 505.68 508.59 512.93 519.8 522.93 529.79 536.72 547.01 550.93 557.8 560.87 567.9 574.72 585.17" y="1205">HOT572 Prevotella veroralis (0.02%|0.19%)</text>
<text x="350.6 358.48 367.48 374.95 381.87 388.91 395.68 398.29 406.2 409.84 417.02 422.8 430.18 433.84 440.91 443.91 446.4 453.68 456.71 462.99 469.8 472.22 477.48 487.2 490.4 497.91 500.22 505.48 510.4 517.99 523.8 530.94 537.22 542.95 549.87 556.91 563.68 566.59 570.93 577.8 580.79 587.89 594.72 605.01 608.93 615.8 618.93 625.95 632.72 643.17" y="1225">HOT317 Prevotella sp._Oral_Taxon_317 (0.25%|0.03%)</text>
<text x="346.6 353.54 361.04 368.16 374.93 377.54 385.45 389.09 396.27 402.05 409.43 413.09 420.16 423.16 425.65 432.93 436.19 442.65 450.19 456.91 463.09 470.17 473.09 480.19 486.96 493.17 495.96 501.93 504.84 509.18 516.05 519.2 526.16 532.97 543.26 547.18 554.05 557.18 564.04 570.97 581.42" y="1245">SP27 Prevotella nanceiensis (0.37%|0.02%)</text>
<text x="349.6 357.48 366.48 373.93 380.93 387.93 394.68 397.55 404.91 407.91 410.8 417.99 425.2 428.84 436.02 441.8 449.18 452.84 459.91 462.91 465.4 472.68 476.18 479.4 486.94 493.94 500.84 508.2 511.4 518.84 525.68 528.59 532.93 539.8 542.87 549.93 556.72 567.01 570.93 577.8 580.87 587.93 594.72 605.17" y="1265">HOT466 Alloprevotella tannerae (0.16%|0.18%)</text>
<text x="345.1 352.98 361.98 369.45 376.43 383.43 390.18 393.05 400.41 403.41 406.3 413.49 420.7 424.34 431.52 437.3 444.68 448.34 455.41 458.41 460.9 468.18 471.21 477.49 484.3 486.72 491.98 501.7 504.9 512.41 514.72 519.98 524.9 532.49 538.3 545.44 551.72 557.45 564.43 571.43 578.18 581.09 585.43 592.3 595.43 602.41 609.22 619.51 623.43 630.3 633.37 640.43 647.22 657.67" y="1285">HOT308 Alloprevotella sp._Oral_Taxon_308 (0.47%|0.10%)</text>
<text x="345.6 353.48 362.48 369.95 376.93 383.79 390.68 393.55 400.91 403.91 406.8 413.99 421.2 424.84 432.02 437.8 445.18 448.84 455.91 458.91 461.4 468.68 472.2 475.4 483.02 488.4 495.68 498.59 502.93 509.8 512.79 519.79 526.72 537.01 540.93 547.8 550.93 557.79 564.72 575.17" y="1305">HOT302 Alloprevotella rava (0.22%|0.02%)</text>
<text x="244.6 252.48 261.48 268.79 275.95 282.91 289.68 292.48 298.2 301.84 308.99 315.8 322.94 329.84 337.2 347.4 354.68 357.71 363.99 370.8 373.22 378.48 388.2 391.4 398.91 401.22 406.48 411.4 418.99 424.8 431.94 438.22 443.79 450.95 457.91 464.68 467.59 471.93 478.8 481.95 488.91 495.72 506.01 509.93 516.8 519.93 526.93 533.72 544.17" y="1325">HOT237 Treponema sp._Oral_Taxon_237 (0.37%|0.00%)</text>
<text x="283.1 290.98 299.98 307.43 314.41 321.43 328.18 330.85 338.3 345.41 348.3 355.49 361.9 369.16 375.68 379.34 386.7 390.42 393.4 400.7 411.18 414.7 425.3 432.3 439.7 443.34 450.42 453.18 456.09 460.43 467.3 470.43 477.41 484.22 494.51 498.43 505.3 508.45 515.41 522.22 532.67" y="1345">HOT678 Solobacterium moorei (0.47%|0.37%)</text>
<text x="237.85 245.73 254.73 262.14 269.2 276.18 282.93 285.66 294.45 297.65 305.19 312.15 319.16 322.17 324.91 330.65 338.43 342.09 349.16 352.16 354.65 361.93 364.65 372.11 379.17 381.65 388.91 395.09 402.19 408.96 414.93 417.84 422.18 429.05 432.18 439.15 445.97 456.26 460.18 467.05 470.12 477.18 483.97 494.42" y="1365">HOT534 Granulicatella adiacens (0.09%|0.10%)</text>
<text x="238.35 245.29 252.87 259.93 266.68 269.41 278.2 281.4 288.94 295.9 302.91 305.92 308.66 314.4 322.18 325.84 332.91 335.91 338.4 345.68 348.99 355.4 363.2 366.4 373.86 380.92 383.4 390.66 396.84 403.94 410.71 416.68 419.59 423.93 430.8 433.95 440.93 447.72 458.01 461.93 468.8 471.87 478.91 485.72 496.17" y="1385">SP10 Granulicatella paradiacens (0.34%|0.17%)</text>
<text x="241.6 249.48 258.48 265.93 272.79 279.93 286.68 289.41 297.84 305.2 315.84 322.91 325.91 328.4 335.68 338.93 345.4 352.84 360.2 370.8 377.91 381.01 386.71 392.4 399.94 406.71 412.68 415.59 419.93 426.8 429.79 436.93 443.72 454.01 457.93 464.8 467.93 474.87 481.72 492.17" y="1405">HOT626 Gemella haemolysans (0.20%|0.41%)</text>
<text x="244.6 252.48 261.48 268.91 275.89 282.91 289.68 292.41 300.84 308.2 318.84 325.91 328.91 331.4 338.68 341.71 347.4 354.94 361.86 368.9 375.92 378.94 385.92 388.71 394.68 397.59 401.93 408.8 411.87 418.93 425.72 436.01 439.93 446.8 449.93 456.93 463.72 474.17" y="1425">HOT757 Gemella sanguinis (0.16%|0.48%)</text>
<text x="251.85 258.79 266.45 273.43 280.18 282.85 290.68 294.7 298.34 305.49 312.68 316.3 323.16 329.3 336.16 342.16 348.4 355.21 361.18 364.16 369.9 377.44 384.42 387.21 393.18 396.09 400.43 407.3 410.43 417.4 424.22 434.51 438.43 445.3 448.43 455.41 462.22 472.67" y="1445">SP38 Streptococcus canis (0.09%|0.07%)</text>
<text x="252.6 260.48 269.48 276.93 283.93 290.93 297.68 300.35 308.18 312.2 315.84 322.99 330.18 333.8 340.66 346.8 353.66 359.66 365.9 372.71 378.68 381.92 384.94 392.18 395.84 403.2 407.2 417.84 424.86 431.92 434.9 441.71 447.68 450.59 454.93 461.8 464.87 471.79 478.72 489.01 492.93 499.8 502.93 509.9 516.72 527.17" y="1465">HOT644 Streptococcus intermedius (0.12%|0.09%)</text>
<text x="252.1 259.98 268.98 276.43 283.29 290.29 297.18 299.85 307.68 311.7 315.34 322.49 329.68 333.3 340.16 346.3 353.16 359.16 365.4 372.21 378.18 381.36 388.3 395.7 399.36 406.3 413.44 420.42 423.42 426.18 429.09 433.43 440.3 443.43 450.45 457.22 467.51 471.43 478.3 481.37 488.43 495.22 505.67" y="1485">HOT622 Streptococcus gordonii (0.03%|0.16%)</text>
<text x="259.85 267.73 276.73 284.14 291.16 298.18 304.93 307.6 315.43 319.45 323.09 330.24 337.43 341.05 347.91 354.05 360.91 366.91 373.15 379.96 385.93 388.91 395.45 399.17 401.96 408.43 411.65 419.43 423.15 429.96 435.93 438.84 443.18 450.05 453.2 460.04 466.97 477.26 481.12 488.05 491.04 498.12 504.97 515.42" y="1505">HOT578 Streptococcus cristatus (0.32%|1.21%)</text>
<text x="264.85 272.73 281.73 289.18 296.18 303.16 309.93 312.6 320.43 324.45 328.09 335.24 342.43 346.05 352.91 359.05 365.91 371.91 378.15 384.96 390.93 393.96 400.24 407.05 409.47 414.73 424.45 427.65 435.16 437.47 442.73 447.65 455.24 461.05 468.19 474.47 480.18 487.18 494.16 500.93 503.84 508.18 515.05 518.12 525.18 531.97 542.26 546.18 553.05 556.18 563.2 569.97 580.42" y="1525">HOT487 Streptococcus sp._Oral_Taxon_487 (0.16%|0.03%)</text>
<text x="265.85 273.73 282.73 290.18 297.18 304.14 310.93 313.6 321.43 325.45 329.09 336.24 343.43 347.05 353.91 360.05 366.91 372.91 379.15 385.96 391.93 394.96 401.24 408.05 410.47 415.73 425.45 428.65 436.16 438.47 443.73 448.65 456.24 462.05 469.19 475.47 481.18 488.18 495.14 501.93 504.84 509.18 516.05 519.12 526.18 532.97 543.26 547.18 554.05 557.18 564.15 570.97 581.42" y="1545">HOT065 Streptococcus sp._Oral_Taxon_065 (0.14%|0.09%)</text>
<text x="272.85 280.73 289.73 297.16 304.14 311.14 317.93 320.6 328.43 332.45 336.09 343.24 350.43 354.05 360.91 367.05 373.91 379.91 386.15 392.96 398.93 401.96 407.65 415.16 418.17 421.27 426.65 434.45 438.17 441.15 447.96 453.93 456.84 461.18 468.05 471.18 478.18 484.97 495.26 499.2 506.05 509.16 516.04 522.97 533.42" y="1565">HOT755 Streptococcus salivarius (0.44%|3.72%)</text>
<text x="269.1 276.98 285.98 293.41 300.29 307.43 314.18 316.85 324.68 328.7 332.34 339.49 346.68 350.3 357.16 363.3 370.16 376.16 382.4 389.21 395.18 398.49 405.34 412.7 416.3 423.7 427.42 430.21 436.18 439.09 443.43 450.3 453.37 460.43 467.22 477.51 481.43 488.3 491.43 498.39 505.22 515.67" y="1585">HOT728 Streptococcus peroris (0.16%|0.05%)</text>
<text x="259.4 267.28 276.28 283.73 290.71 297.75 304.48 307.15 314.98 319 322.64 329.79 336.98 340.6 347.46 353.6 360.46 366.46 372.7 379.51 385.48 388.2 395.7 402.51 408.98 413 416.2 423.71 426.72 429.51 435.48 438.39 442.73 449.6 452.71 459.71 466.52 476.81 480.73 487.6 490.7 497.59 504.52 514.97" y="1605">HOT073 Streptococcus australis (0.77%|0.92%)</text>
<text x="257.1 264.98 273.98 281.41 288.39 295.43 302.18 304.85 312.68 316.7 320.34 327.49 334.68 338.3 345.16 351.3 358.16 364.16 370.4 377.21 383.18 386.21 391.9 399.44 406.36 413.4 420.42 423.44 430.42 433.21 439.18 442.09 446.37 453.3 456.45 463.43 470.22 480.51 484.37 491.3 494.29 501.4 508.22 518.67" y="1625">HOT758 Streptococcus sanguinis (1.30%|1.29%)</text>
<text x="258.6 266.48 275.48 282.93 289.91 296.87 303.68 306.35 314.18 318.2 321.84 328.99 336.18 339.8 346.66 352.8 359.66 365.66 371.9 378.71 384.68 387.71 393.99 400.8 403.22 408.48 418.2 421.4 428.91 431.22 436.48 441.4 448.99 454.8 461.94 468.22 473.91 480.87 487.68 490.59 494.93 501.8 504.87 511.87 518.72 529.01 532.93 539.8 542.87 549.95 556.72 567.17" y="1645">HOT071 Streptococcus sp._Oral_Taxon_71 (0.11%|0.13%)</text>
<text x="258.1 265.98 274.98 282.43 289.39 296.43 303.18 305.85 313.68 317.7 321.34 328.49 335.68 339.3 346.16 352.3 359.16 365.16 371.4 378.21 384.18 387.21 393.49 400.3 402.72 407.98 417.7 420.9 428.41 430.72 435.98 440.9 448.49 454.3 461.44 467.72 473.43 480.39 487.43 494.18 497.09 501.43 508.3 511.37 518.43 525.22 535.51 539.43 546.3 549.39 556.43 563.22 573.67" y="1665">HOT058 Streptococcus sp._Oral_Taxon_058 (0.18%|0.50%)</text>
<text x="259.35 266.29 273.95 280.68 283.35 291.18 295.2 298.84 305.99 313.18 316.8 323.66 329.8 336.66 342.66 348.9 355.71 361.68 364.86 371.84 378.94 386.18 389.92 392.71 398.4 405.94 412.92 415.68 418.59 422.93 429.8 432.9 439.9 446.72 457.01 460.87 467.8 470.93 477.95 484.72 495.17" y="1685">SP3 Streptococcus dentisani (0.99%|1.63%)</text>
<text x="259.6 267.48 276.48 283.93 290.95 297.93 304.68 307.35 315.18 319.2 322.84 329.99 337.18 340.8 347.66 353.8 360.66 366.66 372.9 379.71 385.68 388.92 391.94 399.13 402.4 409.94 417.18 420.92 423.71 429.68 432.59 436.79 443.8 446.93 453.89 460.72 471.01 474.87 481.8 484.89 491.79 498.72 509.17" y="1705">HOT638 Streptococcus infantis (2.65%|1.52%)</text>
<text x="259.15 266.09 273.69 280.48 283.15 290.98 295 298.64 305.79 312.98 316.6 323.46 329.6 336.46 342.46 348.7 355.51 361.48 364.51 370.79 377.6 380.02 385.51 391.98 396 398.6 401.02 406.05 414.75 421.73 428.73 435.48 438.39 442.59 449.6 452.73 459.67 466.52 476.81 480.75 487.6 490.67 497.73 504.52 514.97" y="1725">SP5 Streptococcus sp._str._C300 (2.41%|3.18%)</text>
<text x="260.85 267.79 275.43 282.18 284.85 292.68 296.7 300.34 307.49 314.68 318.3 325.16 331.3 338.16 344.16 350.4 357.21 363.18 366.49 373.21 379.34 386.4 393.36 400.3 407.49 414.44 421.34 428.4 435.7 446.3 453.44 460.42 462.9 470.34 477.18 480.09 484.43 491.3 494.29 501.43 508.22 518.51 522.43 529.3 532.43 539.39 546.22 556.67" y="1745">SP6 Streptococcus pseudopneumoniae (0.26%|0.45%)</text>
<text x="259.6 267.48 276.48 283.93 290.91 297.91 304.68 307.35 315.18 319.2 322.84 329.99 337.18 340.8 347.66 353.8 360.66 366.66 372.9 379.71 385.68 389.2 399.92 403.18 406.92 409.71 415.68 418.59 422.87 429.8 432.79 439.9 446.72 457.01 460.95 467.8 470.87 477.89 484.72 495.17" y="1765">HOT677 Streptococcus mitis (1.29%|3.15%)</text>
<text x="259.6 267.48 276.48 283.93 290.93 297.93 304.68 307.35 315.18 319.2 322.84 329.99 337.18 340.8 347.66 353.8 360.66 366.66 372.9 379.71 385.68 388.71 394.99 401.8 404.22 409.48 419.2 422.4 429.91 432.22 437.48 442.4 449.99 455.8 462.94 469.22 474.93 481.93 488.93 495.68 498.59 502.93 509.8 512.79 519.95 526.72 537.01 540.93 547.8 550.87 557.93 564.72 575.17" y="1785">HOT064 Streptococcus sp._Oral_Taxon_064 (0.23%|0.18%)</text>
<text x="260.6 268.48 277.48 284.93 291.95 298.87 305.68 308.35 316.18 320.2 323.84 330.99 338.18 341.8 348.66 354.8 361.66 367.66 373.9 380.71 386.68 389.71 395.99 402.8 405.22 410.48 420.2 423.4 430.91 433.22 438.48 443.4 450.99 456.8 463.94 470.22 475.93 482.95 489.87 496.68 499.59 503.93 510.8 513.95 520.93 527.72 538.01 541.93 548.8 551.95 558.87 565.72 576.17" y="1805">HOT431 Streptococcus sp._Oral_Taxon_431 (0.38%|0.31%)</text>
<text x="263.6 271.48 280.48 287.93 294.91 301.93 308.68 311.35 319.18 323.2 326.84 333.99 341.18 344.8 351.66 357.8 364.66 370.66 376.9 383.71 389.68 392.71 398.99 405.8 408.22 413.48 423.2 426.4 433.91 436.22 441.48 446.4 453.99 459.8 466.94 473.22 478.93 485.91 492.93 499.68 502.59 506.93 513.8 516.93 523.93 530.72 541.01 544.93 551.8 554.87 561.93 568.72 579.17" y="1825">HOT070 Streptococcus sp._Oral_Taxon_070 (0.04%|0.14%)</text>
<text x="262.1 269.98 278.98 286.41 293.43 300.41 307.18 309.85 317.68 321.7 325.34 332.49 339.68 343.3 350.16 356.3 363.16 369.16 375.4 382.21 388.18 391.3 398.7 401.9 409.41 412.42 415.21 421.18 424.09 428.37 435.3 438.45 445.39 452.22 462.51 466.29 473.3 476.37 483.43 490.22 500.67" y="1845">HOT707 Streptococcus oralis (1.35%|2.16%)</text>
<text x="262.6 270.48 279.48 286.93 293.93 300.87 307.68 310.35 318.18 322.2 325.84 332.99 340.18 343.8 350.66 356.8 363.66 369.66 375.9 382.71 388.68 391.71 397.99 404.8 407.22 412.48 422.2 425.4 432.91 435.22 440.48 445.4 452.99 458.8 465.94 472.22 477.93 484.93 491.87 498.68 501.59 505.93 512.8 515.93 522.79 529.72 540.01 543.93 550.8 553.93 560.93 567.72 578.17" y="1865">HOT061 Streptococcus sp._Oral_Taxon_061 (0.82%|0.48%)</text>
<text x="263.6 271.48 280.48 287.93 294.91 301.93 308.68 311.35 319.18 323.2 326.84 333.99 341.18 344.8 351.66 357.8 364.66 370.66 376.9 383.71 389.68 392.71 398.99 405.8 408.22 413.48 423.2 426.4 433.91 436.22 441.48 446.4 453.99 459.8 466.94 473.22 478.93 485.91 492.93 499.68 502.59 506.93 513.8 516.79 523.89 530.72 541.01 544.93 551.8 554.87 561.89 568.72 579.17" y="1885">HOT074 Streptococcus sp._Oral_Taxon_074 (0.25%|0.15%)</text>
<text x="265.6 273.48 282.48 289.93 296.93 303.93 310.68 313.35 321.18 325.2 328.84 335.99 343.18 346.8 353.66 359.8 366.66 372.66 378.9 385.71 391.68 394.71 400.99 407.8 410.22 415.48 425.2 428.4 435.91 438.22 443.48 448.4 455.99 461.8 468.94 475.22 480.93 487.93 494.93 501.68 504.59 508.93 515.8 518.87 525.89 532.72 543.01 546.93 553.8 556.87 563.9 570.72 581.17" y="1905">HOT068 Streptococcus sp._Oral_Taxon_068 (0.15%|0.19%)</text>
<text x="270.3 278.18 287.18 294.63 301.63 308.61 315.38 318.05 325.88 329.9 333.54 340.69 347.88 351.5 358.36 364.5 371.36 377.36 383.6 390.41 396.38 399.41 405.69 412.5 414.92 420.18 429.9 433.1 440.61 442.92 448.18 453.1 460.69 466.5 473.64 479.92 485.63 492.63 499.61 506.38 509.29 513.63 520.5 523.63 530.63 537.42 547.71 551.63 558.5 561.59 568.65 575.42 585.87" y="1925">HOT067 Streptococcus sp._Oral_Taxon_067 (0.06%|0.53%)</text>
<text x="269.6 277.48 286.48 293.93 300.87 307.87 314.68 317.35 325.18 329.2 332.84 339.99 347.18 350.8 357.66 363.8 370.66 376.66 382.9 389.71 395.68 398.99 405.4 413.2 416.4 423.71 429.4 436.94 443.86 450.9 457.92 460.94 467.92 470.71 476.22 481.68 484.68 487.68 490.59 494.93 501.8 504.91 511.91 518.72 529.01 532.79 539.8 542.79 549.87 556.72 567.17" y="1945">HOT411 Streptococcus parasanguinis_II (0.77%|2.21%)</text>
<text x="273.8 281.68 290.68 298.13 305.09 312.11 318.88 321.55 329.38 333.4 337.04 344.19 351.38 355 361.86 368 374.86 380.86 387.1 393.91 399.88 402.91 409.19 416 418.42 423.68 433.4 436.6 444.11 446.42 451.68 456.6 464.19 470 477.14 483.42 489.13 496.09 503.11 509.88 512.79 517.13 524 527.07 534.09 540.92 551.21 555.13 562 564.99 572.09 578.92 589.37" y="1965">HOT057 Streptococcus sp._Oral_Taxon_057 (0.15%|0.25%)</text>
<text x="272.1 279.98 288.98 296.41 303.29 310.37 317.18 319.85 327.68 331.7 335.34 342.49 349.68 353.3 360.16 366.3 373.16 379.16 385.4 392.21 398.18 401.49 407.9 415.7 418.9 426.21 431.9 439.44 446.36 453.4 460.42 463.44 470.42 473.21 478.72 484.18 487.18 490.09 494.43 501.3 504.37 511.41 518.22 528.51 532.43 539.3 542.37 549.43 556.22 566.67" y="1985">HOT721 Streptococcus parasanguinis_I (0.17%|0.18%)</text>
<text x="272.55 279.49 287.07 293.99 300.88 303.55 311.38 315.4 319.04 326.19 333.38 337 343.86 350 356.86 362.86 369.1 375.91 381.88 385.19 391.6 399.4 402.6 409.91 415.6 423.14 430.06 437.1 444.12 447.14 454.12 456.91 462.88 465.79 470.13 477 479.99 486.99 493.92 504.21 508.07 515 517.99 525.13 531.92 542.37" y="2005">SP12 Streptococcus parasanguinis (0.22%|1.28%)</text>
</g>
<g font-family="Liberation Serif, serif" fill="#000">
<text x="10" y="2030" font-size="11.5" textLength="79" lengthAdjust="spacingAndGlyphs">substitutions/site</text>
<text x="6" y="2041" font-size="11">0</text>
<text x="60" y="2041" font-size="11">0.2</text>
<text x="123" y="2041" font-size="11">0.4</text>
<text x="186" y="2041" font-size="11">0.6</text>
<text x="249" y="2041" font-size="11">0.8</text>
</g>
<path d="M10 2050H310M10 2043V2050M73 2043V2050M136 2043V2050M199 2043V2050M262 2043V2050" stroke="#000" stroke-width="1" fill="none"/>
</svg>
</body></html>
